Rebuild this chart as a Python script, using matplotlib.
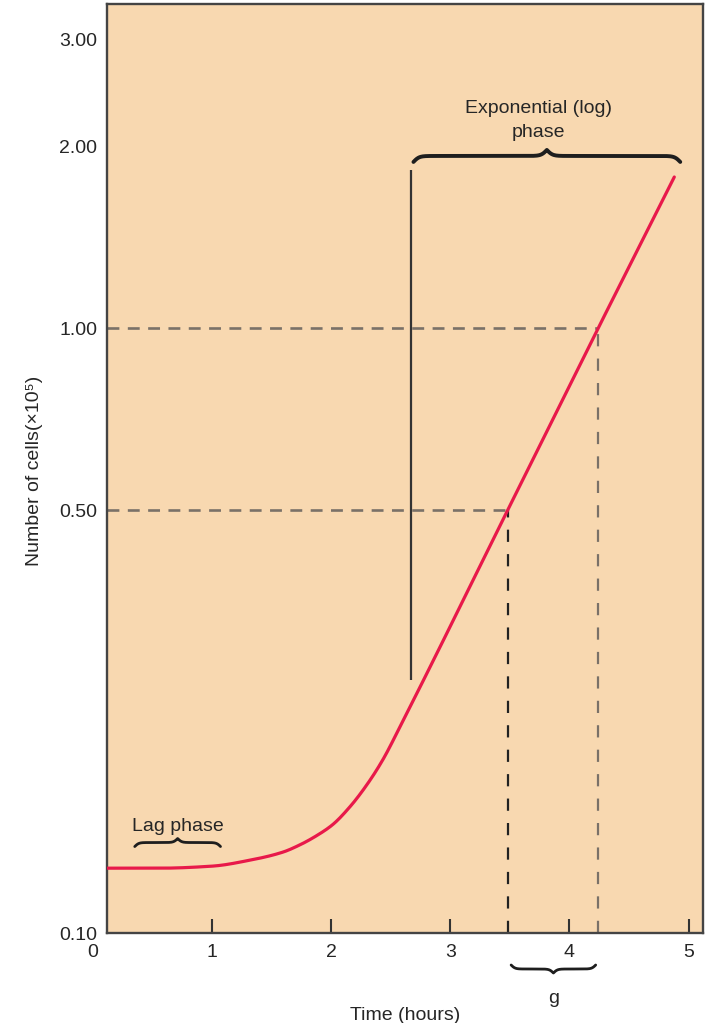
import numpy as np
import matplotlib
matplotlib.use("Agg")
import matplotlib.pyplot as plt

# Bacterial growth curve: time (hours) vs number of cells (x10^5), log scale
hours = [0.117, 0.56, 1.0, 1.32, 1.59, 1.74, 1.88, 2.01, 2.16, 2.30, 2.43, 2.60, 3.48, 4.24, 4.88]
cells = [0.128, 0.128, 0.129, 0.132, 0.136, 0.140, 0.145, 0.151, 0.162, 0.176, 0.193, 0.224, 0.50, 1.00, 1.78]

y_ticks = [0.10, 0.50, 1.00, 2.00, 3.00]
y_tick_labels = ["0.10", "0.50", "1.00", "2.00", "3.00"]
x_ticks = [1, 2, 3, 4, 5]
x_tick_labels = ["1", "2", "3", "4", "5"]

# generation time markers: population doubles from 0.5 to 1.0
half_time, half_cells = 3.48, 0.50
double_time, double_cells = 4.24, 1.00

# start of the exponential phase marker
exp_start_time = 2.67
exp_line_range = (0.262, 1.83)

# spans of the annotation braces (hours)
lag_span = (0.35, 1.07)
lag_level = 0.139
exp_span = (2.69, 4.93)
exp_level = 1.885
g_span = (3.51, 4.22)

BG = "#F8D8B0"
CURVE = "#E8194A"
DASH_GRAY = "#7a7168"
TEXT = "#262626"
FONT = ["Liberation Sans", "DejaVu Sans"]

plt.rcParams["font.family"] = FONT


def pchip(x, y, xq):
    """Monotone cubic (Fritsch-Carlson) used to draw a smooth curve through the points."""
    x = np.asarray(x, float)
    y = np.asarray(y, float)
    h = np.diff(x)
    d = np.diff(y) / h
    m = np.zeros_like(y)
    for k in range(1, len(x) - 1):
        if d[k - 1] * d[k] > 0:
            w1 = 2 * h[k] + h[k - 1]
            w2 = h[k] + 2 * h[k - 1]
            m[k] = (w1 + w2) / (w1 / d[k - 1] + w2 / d[k])
    m[0] = d[0]
    m[-1] = d[-1]
    idx = np.clip(np.searchsorted(x, xq) - 1, 0, len(x) - 2)
    t = (xq - x[idx]) / h[idx]
    h00 = 2 * t**3 - 3 * t**2 + 1
    h10 = t**3 - 2 * t**2 + t
    h01 = -2 * t**3 + 3 * t**2
    h11 = t**3 - t**2
    return h00 * y[idx] + h10 * h[idx] * m[idx] + h01 * y[idx + 1] + h11 * h[idx] * m[idx + 1]


fig = plt.figure(figsize=(7.10, 10.23), dpi=100)
ax = fig.add_axes([107 / 710, 1 - 933 / 1023, (703 - 107) / 710, (933 - 4) / 1023])
ax.set_facecolor(BG)
ax.set_yscale("log")
ax.set_xlim(0.117, 5.121)
ax.set_ylim(0.10, 3.44)

# growth curve, drawn smoothly in log space through the points
tq = np.linspace(hours[0], hours[-1], 600)
vq = 10 ** pchip(hours, np.log10(cells), tq)
ax.plot(tq, vq, color=CURVE, lw=2.3, solid_capstyle="round", zorder=4)

# dashed guides for the doubling interval
ax.hlines([half_cells], 0.117, half_time, colors=DASH_GRAY, lw=1.9,
          linestyles=(0, (4.5, 3.2)), zorder=2)
ax.hlines([double_cells], 0.117, double_time, colors=DASH_GRAY, lw=1.9,
          linestyles=(0, (4.5, 3.2)), zorder=2)
ax.vlines([half_time], 0.10, half_cells, colors="#222222", lw=1.6,
          linestyles=(0, (5.5, 5.5)), zorder=2)
ax.vlines([double_time], 0.10, double_cells, colors=DASH_GRAY, lw=1.6,
          linestyles=(0, (5.5, 5.5)), zorder=2)

# vertical marker at the start of the log phase
ax.vlines([exp_start_time], exp_line_range[0], exp_line_range[1],
          colors="#333333", lw=1.6, zorder=3)

# axes styling
for s in ax.spines.values():
    s.set_color("#444444")
    s.set_linewidth(1.7)
ax.set_yticks(y_ticks)
ax.set_yticklabels(y_tick_labels)
ax.yaxis.set_minor_locator(matplotlib.ticker.NullLocator())
ax.tick_params(axis="y", length=0, pad=7, labelsize=14, labelcolor=TEXT)
ax.set_xticks(x_ticks)
ax.set_xticklabels(x_tick_labels)
ax.tick_params(axis="x", direction="in", length=10, width=1.5, color="#333333",
               pad=8, labelsize=14, labelcolor=TEXT)
ax.annotate("0", xy=(0.0, 0), xycoords=("data", "axes fraction"),
            xytext=(0, -8), textcoords="offset points", ha="center", va="top",
            fontsize=14, color=TEXT, annotation_clip=False)

ax.set_xlabel("Time (hours)", fontsize=14, color=TEXT, labelpad=33)
ax.set_ylabel("Number of cells(\u00d710\u2075)", fontsize=14, color=TEXT)
ax.yaxis.set_label_coords(-0.107, 0.497)

fig.canvas.draw()
to_axes = ax.transAxes.inverted()


def brace(x0_px, x1_px, y_px, h_px, beta, lw):
    """Curly brace between two display x positions; h_px > 0 points up."""
    w = x1_px - x0_px
    xs = np.linspace(0, w / 2, 200)
    yh = 1 / (1 + np.exp(-beta * (xs - xs[0]))) + 1 / (1 + np.exp(-beta * (xs - xs[-1])))
    yoff = (yh - 0.5) * h_px
    X = np.concatenate([x0_px + xs, x0_px + w - xs[::-1]])
    Y = np.concatenate([y_px + yoff, y_px + yoff[::-1]])
    pts = to_axes.transform(np.column_stack([X, Y]))
    ax.plot(pts[:, 0], pts[:, 1], transform=ax.transAxes, color="#1e1e1e",
            lw=lw, clip_on=False, zorder=5, solid_capstyle="round")


def data_px(t, v):
    return ax.transData.transform((t, v))


# exponential phase brace and label
(ex0, ey), (ex1, _) = data_px(exp_span[0], exp_level), data_px(exp_span[1], exp_level)
brace(ex0, ex1, ey, 12, 0.35, 2.8)
ax.text(0.5 * (exp_span[0] + exp_span[1]) - 0.07, 2.21, "Exponential (log)\nphase",
        ha="center", va="center", fontsize=14, color=TEXT, linespacing=1.55)

# lag phase brace and label
(lx0, ly), (lx1, _) = data_px(lag_span[0], lag_level), data_px(lag_span[1], lag_level)
brace(lx0, lx1, ly, 8, 0.5, 2.0)
ax.text(0.5 * (lag_span[0] + lag_span[1]), 0.150, "Lag phase",
        ha="center", va="center", fontsize=14, color=TEXT)

# generation time brace below the axis
gx0 = data_px(g_span[0], 0.1)[0]
gx1 = data_px(g_span[1], 0.1)[0]
gy = ax.transAxes.transform((0, 0))[1] - 32
brace(gx0, gx1, gy, -8, 0.5, 2.0)
ax.annotate("g", xy=(0.5 * (g_span[0] + g_span[1]), 0), xycoords=("data", "axes fraction"),
            xytext=(0, -47), textcoords="offset points", ha="center", va="center",
            fontsize=14, color=TEXT, annotation_clip=False)

fig.savefig("out.png", dpi=100, facecolor="white")
